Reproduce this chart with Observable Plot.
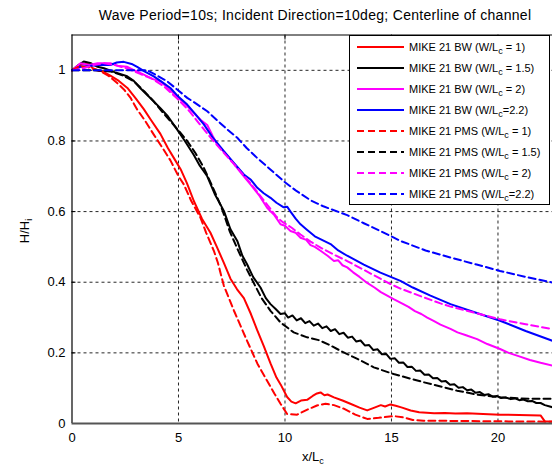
<!DOCTYPE html>
<html><head><meta charset="utf-8">
<script src="https://cdn.jsdelivr.net/npm/d3@7"></script>
<script src="https://cdn.jsdelivr.net/npm/@observablehq/plot@0.6"></script>
<style>
body{margin:0;background:#fff;font-family:"Liberation Sans",Arial,sans-serif;color:#000;}
#wrap{position:relative;width:552px;height:466px;overflow:hidden;}
#title{height:27px;line-height:30px;padding-left:78px;box-sizing:border-box;text-align:center;font-size:14px;letter-spacing:0.3px;white-space:nowrap;}
#xlab{position:absolute;left:302px;top:449px;font-size:13px;}
#ylab{position:absolute;left:24px;top:231px;font-size:13px;transform:translate(-50%,-50%) rotate(-90deg);white-space:nowrap;}
sub{font-size:9px;vertical-align:-3px;line-height:0;}
#legend{position:absolute;left:349px;top:35px;width:201px;height:170px;box-sizing:border-box;border:1px solid #000;background:#fff;padding-top:1px;}
.row{height:20.9px;display:flex;align-items:center;font-size:11px;white-space:nowrap;}
.row svg{margin-left:7px;margin-right:5px;flex:none;}
</style></head>
<body>
<div id="wrap">
<div id="title">Wave Period=10s; Incident Direction=10deg; Centerline of channel</div>
<div id="chart"></div>
<div id="xlab">x/L<sub>c</sub></div>
<div id="ylab">H/H<sub>i</sub></div>
<div id="legend"></div>
</div>
<script>
// tick values
const xTicks = [0, 5, 10, 15, 20];
const yTicks = [0, 0.2, 0.4, 0.6, 0.8, 1];
const xGrid = [5, 10, 15, 20];
const yGrid = [0.2, 0.4, 0.6, 0.8, 1];

// MIKE 21 BW, W/Lc = 1
const bw1 = [[0,1.0],[0.4,1.015],[0.7,1.02],[1.0,1.005],[1.5,0.995],[1.8,0.985],[2.2,0.97],[2.6,0.95],[3.0,0.92],[3.37,0.89],[3.7,0.86],[4.15,0.82],[4.5,0.78],[4.8,0.75],[5.1,0.72],[5.4,0.68],[5.72,0.63],[6.1,0.58],[6.5,0.54],[6.8,0.5],[7.13,0.455],[7.44,0.41],[7.75,0.38],[8.07,0.355],[8.4,0.31],[8.69,0.265],[9.0,0.22],[9.32,0.17],[9.6,0.13],[9.8,0.11],[10.1,0.075],[10.3,0.062],[10.5,0.057],[10.75,0.065],[11.04,0.067],[11.3,0.078],[11.5,0.085],[11.67,0.088],[11.85,0.08],[12.0,0.082],[12.3,0.074],[12.7,0.065],[13.07,0.056],[13.5,0.045],[13.86,0.037],[14.2,0.045],[14.5,0.052],[14.7,0.048],[14.95,0.054],[15.2,0.05],[15.5,0.045],[15.9,0.037],[16.3,0.032],[17.0,0.029],[17.5,0.03],[18.0,0.028],[18.55,0.029],[19.3,0.027],[20.1,0.025],[21.0,0.024],[22.0,0.023],[22.2,0.006],[22.56,0.006]];
// MIKE 21 BW, W/Lc = 1.5
const bw15 = [[0,1.0],[0.3,1.015],[0.55,1.025],[0.9,1.02],[1.2,1.01],[1.5,1.006],[2.0,0.995],[2.59,0.983],[2.9,0.97],[3.2,0.95],[3.7,0.92],[4.15,0.893],[4.5,0.87],[4.94,0.832],[5.3,0.8],[5.72,0.76],[6.0,0.73],[6.35,0.7],[6.7,0.65],[7.13,0.602],[7.44,0.55],[7.76,0.517],[8.0,0.475],[8.22,0.451],[8.5,0.415],[8.85,0.385],[9.1,0.355],[9.32,0.338],[9.55,0.325],[9.79,0.31],[10.0,0.312],[10.15,0.3],[10.35,0.306],[10.55,0.292],[10.75,0.298],[10.95,0.284],[11.15,0.29],[11.35,0.277],[11.55,0.283],[11.75,0.27],[11.95,0.275],[12.15,0.262],[12.35,0.267],[12.55,0.253],[12.75,0.257],[12.95,0.243],[13.15,0.246],[13.35,0.232],[13.55,0.235],[13.75,0.221],[13.95,0.222],[14.15,0.208],[14.35,0.21],[14.55,0.196],[14.75,0.197],[14.95,0.183],[15.15,0.185],[15.35,0.172],[15.55,0.173],[15.75,0.16],[15.95,0.161],[16.15,0.149],[16.35,0.15],[16.55,0.138],[16.75,0.139],[16.95,0.128],[17.15,0.129],[17.35,0.119],[17.55,0.12],[17.75,0.11],[17.95,0.111],[18.15,0.101],[18.35,0.103],[18.55,0.094],[18.75,0.096],[18.95,0.087],[19.15,0.089],[19.35,0.081],[19.55,0.083],[19.75,0.076],[19.95,0.078],[20.15,0.072],[20.35,0.074],[20.6,0.069],[20.8,0.071],[21.0,0.066],[21.2,0.068],[21.4,0.063],[21.6,0.064],[21.8,0.058],[22.0,0.058],[22.2,0.052],[22.56,0.046]];
// MIKE 21 BW, W/Lc = 2
const bw2 = [[0,1.0],[0.4,1.02],[0.8,1.015],[1.2,1.02],[1.8,1.02],[2.2,1.012],[2.6,1.01],[3.0,0.998],[3.37,0.988],[3.8,0.975],[4.15,0.969],[4.5,0.95],[4.94,0.925],[5.3,0.905],[5.72,0.88],[6.03,0.86],[6.35,0.845],[6.6,0.815],[6.82,0.79],[7.2,0.765],[7.6,0.735],[8.0,0.705],[8.38,0.677],[8.8,0.645],[9.16,0.611],[9.5,0.59],[9.79,0.564],[10.0,0.56],[10.26,0.545],[10.5,0.54],[10.73,0.526],[11.0,0.52],[11.2,0.505],[11.4,0.5],[11.67,0.489],[12.0,0.475],[12.3,0.46],[12.5,0.462],[12.7,0.448],[12.92,0.442],[13.2,0.428],[13.5,0.415],[13.86,0.398],[14.2,0.385],[14.5,0.372],[14.8,0.362],[15.1,0.352],[15.42,0.342],[15.8,0.33],[16.1,0.318],[16.4,0.31],[16.68,0.3],[17.0,0.29],[17.3,0.28],[17.77,0.268],[18.1,0.258],[18.5,0.25],[19.02,0.239],[19.5,0.225],[20.1,0.211],[20.5,0.2],[21.0,0.19],[21.5,0.18],[22.0,0.172],[22.56,0.164]];
// MIKE 21 BW, W/Lc = 2.2
const bw22 = [[0,1.0],[0.4,1.01],[0.8,1.012],[1.34,1.016],[1.8,1.015],[2.1,1.022],[2.43,1.024],[2.8,1.018],[3.06,1.01],[3.4,0.997],[3.84,0.983],[4.2,0.968],[4.62,0.95],[5.0,0.925],[5.41,0.903],[5.8,0.875],[6.19,0.847],[6.6,0.81],[7.13,0.771],[7.6,0.738],[8.07,0.705],[8.4,0.69],[8.69,0.668],[9.0,0.652],[9.32,0.639],[9.6,0.625],[9.94,0.612],[10.1,0.614],[10.26,0.6],[10.5,0.58],[10.73,0.564],[11.0,0.55],[11.4,0.53],[12.14,0.508],[12.5,0.49],[12.92,0.475],[13.7,0.45],[14.48,0.427],[15.42,0.404],[16.0,0.385],[16.83,0.362],[17.77,0.338],[18.9,0.315],[20.1,0.291],[21.3,0.262],[22.56,0.234]];
// MIKE 21 PMS, W/Lc = 1
const pms1 = [[0,1.0],[0.3,1.01],[0.7,1.01],[1.34,0.997],[1.7,0.985],[2.12,0.964],[2.45,0.945],[2.75,0.922],[3.06,0.889],[3.4,0.86],[3.84,0.818],[4.2,0.785],[4.62,0.745],[5.0,0.7],[5.25,0.677],[5.6,0.63],[6.03,0.583],[6.3,0.54],[6.66,0.489],[6.85,0.455],[7.13,0.39],[7.6,0.32],[8.22,0.234],[8.7,0.17],[9.16,0.121],[9.5,0.085],[9.79,0.056],[10.1,0.027],[10.57,0.025],[11.0,0.038],[11.5,0.051],[11.9,0.056],[12.3,0.052],[12.76,0.042],[13.3,0.025],[13.86,0.013],[14.4,0.016],[15.1,0.021],[15.6,0.017],[16.0,0.01],[16.5,0.008],[18.55,0.007],[20.5,0.006],[22.56,0.005]];
// MIKE 21 PMS, W/Lc = 1.5
const pms15 = [[0,1.0],[1.0,1.0],[1.8,0.997],[2.4,0.985],[2.9,0.969],[3.4,0.94],[3.84,0.912],[4.2,0.885],[4.62,0.856],[5.0,0.83],[5.41,0.8],[5.8,0.765],[6.19,0.724],[6.6,0.67],[7.0,0.615],[7.4,0.545],[7.8,0.49],[8.22,0.435],[8.6,0.39],[8.9,0.355],[9.32,0.319],[9.79,0.286],[10.41,0.258],[11.04,0.244],[11.59,0.236],[12.1,0.222],[12.6,0.206],[13.4,0.183],[14.17,0.159],[15.1,0.14],[16.5,0.117],[18.08,0.093],[19.0,0.082],[20.1,0.074],[21.5,0.07],[22.56,0.07]];
// MIKE 21 PMS, W/Lc = 2
const pms2 = [[0,1.0],[0.5,1.005],[1.0,1.015],[1.5,1.02],[2.0,1.015],[2.6,1.005],[3.2,0.99],[3.8,0.975],[4.3,0.955],[4.94,0.92],[5.5,0.885],[6.03,0.845],[6.5,0.81],[7.0,0.775],[7.6,0.735],[8.38,0.68],[9.16,0.62],[9.6,0.585],[9.9,0.57],[10.3,0.555],[10.73,0.535],[11.2,0.515],[11.67,0.498],[12.3,0.478],[12.92,0.46],[13.7,0.435],[14.48,0.41],[14.95,0.395],[15.42,0.382],[16.3,0.362],[17.3,0.34],[17.77,0.331],[19.0,0.312],[20.1,0.295],[21.3,0.281],[22.56,0.267]];
// MIKE 21 PMS, W/Lc = 2.2
const pms22 = [[0,1.0],[1.0,1.0],[2.0,1.0],[3.0,1.0],[3.53,1.0],[4.0,0.985],[4.47,0.969],[4.95,0.945],[5.41,0.922],[5.72,0.91],[6.35,0.884],[6.82,0.858],[7.3,0.832],[7.76,0.809],[8.2,0.78],[8.69,0.752],[9.3,0.72],[9.94,0.686],[10.5,0.66],[11.2,0.632],[11.8,0.615],[12.92,0.59],[13.7,0.567],[14.48,0.545],[15.42,0.517],[16.6,0.49],[17.77,0.47],[19.0,0.45],[20.1,0.432],[21.3,0.415],[22.56,0.399]];

const seriesNames = ["MIKE 21 BW (W/L<sub>c</sub> = 1)","MIKE 21 BW (W/L<sub>c</sub> = 1.5)","MIKE 21 BW (W/L<sub>c</sub> = 2)","MIKE 21 BW (W/L<sub>c</sub>=2.2)","MIKE 21 PMS (W/L<sub>c</sub> = 1)","MIKE 21 PMS (W/L<sub>c</sub> = 1.5)","MIKE 21 PMS (W/L<sub>c</sub> = 2)","MIKE 21 PMS (W/L<sub>c</sub>=2.2)"];
const seriesData = [bw1, bw15, bw2, bw22, pms1, pms15, pms2, pms22];
const seriesColors = ["#ff0000","#000000","#ff00ff","#0000ff","#ff0000","#000000","#ff00ff","#0000ff"];
const seriesDash = [null,null,null,null,"7,4","7,4","7,4","7,4"];

const lineMarks = seriesData.map((d, i) => Plot.line(d, {
  x: p => p[0], y: p => p[1], stroke: seriesColors[i], strokeWidth: 2,
  strokeDasharray: seriesDash[i] || undefined, curve: "linear"
}));

const chart = Plot.plot({
  width: 552, height: 439,
  marginTop: 7.5, marginBottom: 43, marginLeft: 71.5, marginRight: 0,
  style: {fontFamily: "'Liberation Sans', Arial, sans-serif", fontSize: "13px", background: "#fff", color: "#000"},
  x: {domain: [0, 22.56]},
  y: {domain: [0, 1.1]},
  marks: [
    Plot.gridX(xGrid, {stroke: "#000", strokeOpacity: 0.85, strokeDasharray: "3,3"}),
    Plot.gridY(yGrid, {stroke: "#000", strokeOpacity: 0.85, strokeDasharray: "3,3"}),
    Plot.axisX(xTicks, {tickSize: 0, tickPadding: 9, label: null, fill: "#000"}),
    Plot.axisY(yTicks, {tickSize: 0, tickPadding: 6.5, label: null, fill: "#000",
      tickFormat: d => (d === 0 || d === 1) ? String(d) : d.toFixed(1)}),
    Plot.axisX(xGrid, {anchor: "top", tickSize: -4, tickFormat: () => "", label: null, stroke: "#000"}),
    Plot.axisY(yGrid, {anchor: "left", tickSize: -4, tickFormat: () => "", label: null, stroke: "#000"}),
    ...lineMarks,
    Plot.ruleY([1.1], {stroke: "#000", strokeWidth: 1}),
    Plot.ruleX([0], {stroke: "#000", strokeWidth: 1.2}),
    Plot.ruleY([0], {stroke: "#555", strokeWidth: 2})
  ]
});
document.getElementById("chart").appendChild(chart);

// legend
const legend = document.getElementById("legend");
seriesNames.forEach((name, i) => {
  const row = document.createElement("div");
  row.className = "row";
  row.innerHTML = `<svg width="47" height="6"><line x1="0" y1="3" x2="47" y2="3" stroke="${seriesColors[i]}" stroke-width="2" ${seriesDash[i] ? `stroke-dasharray="${seriesDash[i]}"` : ""}/></svg><span>${name}</span>`;
  legend.appendChild(row);
});
</script>
</body></html>
